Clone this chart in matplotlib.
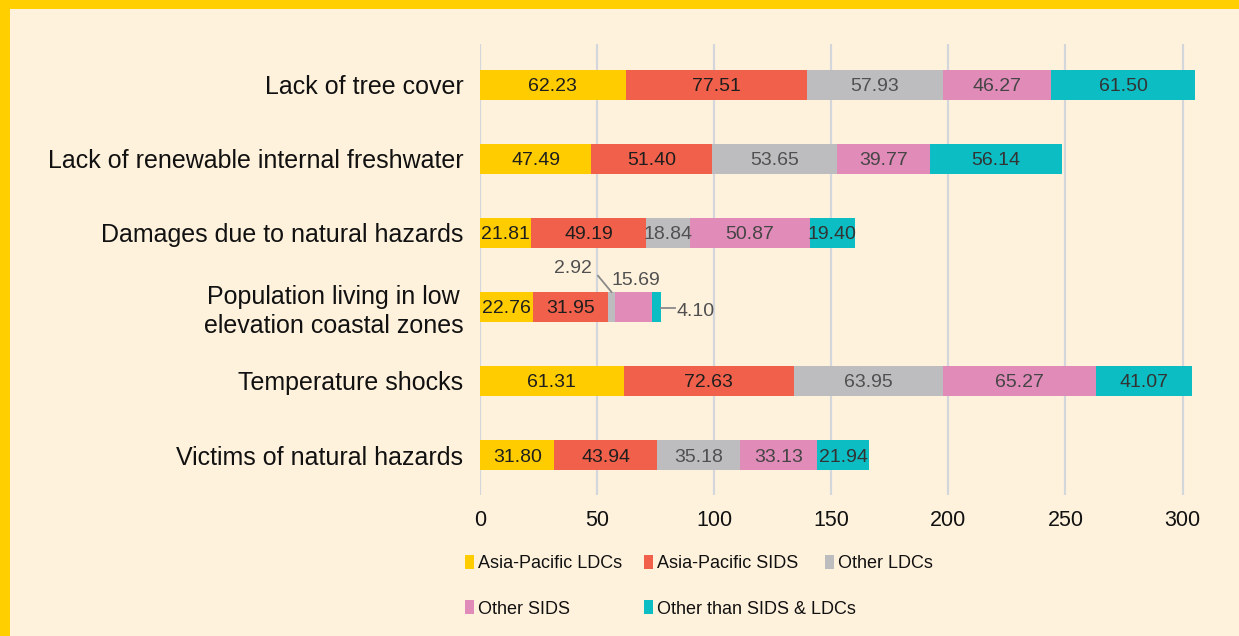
import matplotlib
matplotlib.use("Agg")
import matplotlib.pyplot as plt
from matplotlib.patches import Rectangle
import numpy as np

categories = [
    "Lack of tree cover",
    "Lack of renewable internal freshwater",
    "Damages due to natural hazards",
    "Population living in low\nelevation coastal zones",
    "Temperature shocks",
    "Victims of natural hazards",
]
series_names = ["Asia-Pacific LDCs", "Asia-Pacific SIDS", "Other LDCs",
                "Other SIDS", "Other than SIDS & LDCs"]
asia_ldcs = [62.23, 47.49, 21.81, 22.76, 61.31, 31.80]
asia_sids = [77.51, 51.40, 49.19, 31.95, 72.63, 43.94]
other_ldcs = [57.93, 53.65, 18.84, 2.92, 63.95, 35.18]
other_sids = [46.27, 39.77, 50.87, 15.69, 65.27, 33.13]
other_than = [61.50, 56.14, 19.40, 4.10, 41.07, 21.94]
xticks = [0, 50, 100, 150, 200, 250, 300]

series = [asia_ldcs, asia_sids, other_ldcs, other_sids, other_than]
colors = ["#FFCC00", "#F0604A", "#BDBDBF", "#E08BB8", "#0CBDC3"]
label_colors = ["#1E1E1E", "#1E1E1E", "#505050", "#454545", "#333333"]

BG = "#FFF2DD"
BORDER = "#FFCF00"
SANS = ["Liberation Sans", "DejaVu Sans"]

W, H = 1239, 636
fig = plt.figure(figsize=(W / 100, H / 100), dpi=100)
fig.patch.set_facecolor(BORDER)
fig.add_artist(Rectangle((10 / W, 0), 1, 1 - 9 / H, transform=fig.transFigure,
                         facecolor=BG, edgecolor="none", zorder=0))

ax = fig.add_axes([480 / W, 1 - 495 / H, (1206 - 480) / W, (495 - 44) / H])
ax.set_facecolor("none")
for s in ax.spines.values():
    s.set_visible(False)

n = len(categories)
y = np.arange(n)
left = np.zeros(n)
for vals, col, lc in zip(series, colors, label_colors):
    vals = np.array(vals)
    ax.barh(y, vals, left=left, height=0.4, color=col, edgecolor="none", zorder=3)
    for i in range(n):
        if i == 3 and col in ("#BDBDBF", "#E08BB8", "#0CBDC3"):
            continue
        ax.text(left[i] + vals[i] / 2, y[i], f"{vals[i]:.2f}", ha="center",
                va="center_baseline", fontsize=14, color=lc, family=SANS, zorder=5)
    left += vals

i = 3
start_ol = asia_ldcs[i] + asia_sids[i]
ax.text(39.7, i - 0.55, f"{other_ldcs[i]:.2f}", ha="center", va="center_baseline",
        fontsize=14, color="#505050", family=SANS, zorder=5)
ax.plot([50.4, start_ol + other_ldcs[i] / 2], [i - 0.42, i - 0.2],
        color="#8A8A8A", lw=1.3, zorder=4)
start_os = start_ol + other_ldcs[i]
ax.text(start_os + other_sids[i] / 2 + 1, i - 0.39, f"{other_sids[i]:.2f}",
        ha="center", va="center_baseline", fontsize=14, color="#505050", family=SANS, zorder=5)
end = start_os + other_sids[i] + other_than[i]
ax.plot([end, end + 5.8], [i + 0.01, i + 0.01], color="#8A8A8A", lw=1.3, zorder=4)
ax.text(end + 6.6, i + 0.03, f"{other_than[i]:.2f}", ha="left", va="center_baseline",
        fontsize=14, color="#505050", family=SANS, zorder=5)

ax.set_xlim(0, 310)
ax.set_ylim(n - 1 + 0.54, -0.55)
ax.set_xticks(xticks)
ax.set_xticklabels([str(t) for t in xticks], fontsize=15.5, family=SANS, color="#111111")
ax.tick_params(axis="x", length=0, pad=11)
ax.set_yticks(y)
ax.set_yticklabels(categories, fontsize=18, family=SANS, color="#111111",
                   linespacing=1.25, multialignment="center")
for t in ax.get_yticklabels():
    t.set_va("center_baseline")
ax.tick_params(axis="y", length=0, pad=12)
ax.grid(axis="x", color="#D3D6DB", lw=1.6, zorder=0)
ax.set_axisbelow(True)

legend_pos = [(465, 562), (644, 562), (825, 562), (465, 607), (644, 607)]
for name, col, (px, py) in zip(series_names, colors, legend_pos):
    fig.add_artist(Rectangle((px / W, 1 - (py + 7) / H), 9 / W, 14 / H,
                             transform=fig.transFigure, facecolor=col,
                             edgecolor="none"))
    fig.text((px + 13) / W, 1 - py / H, name, ha="left", va="center_baseline",
             fontsize=13, family=SANS, color="#111111")

fig.savefig("out.png", dpi=100, facecolor=fig.get_facecolor())
